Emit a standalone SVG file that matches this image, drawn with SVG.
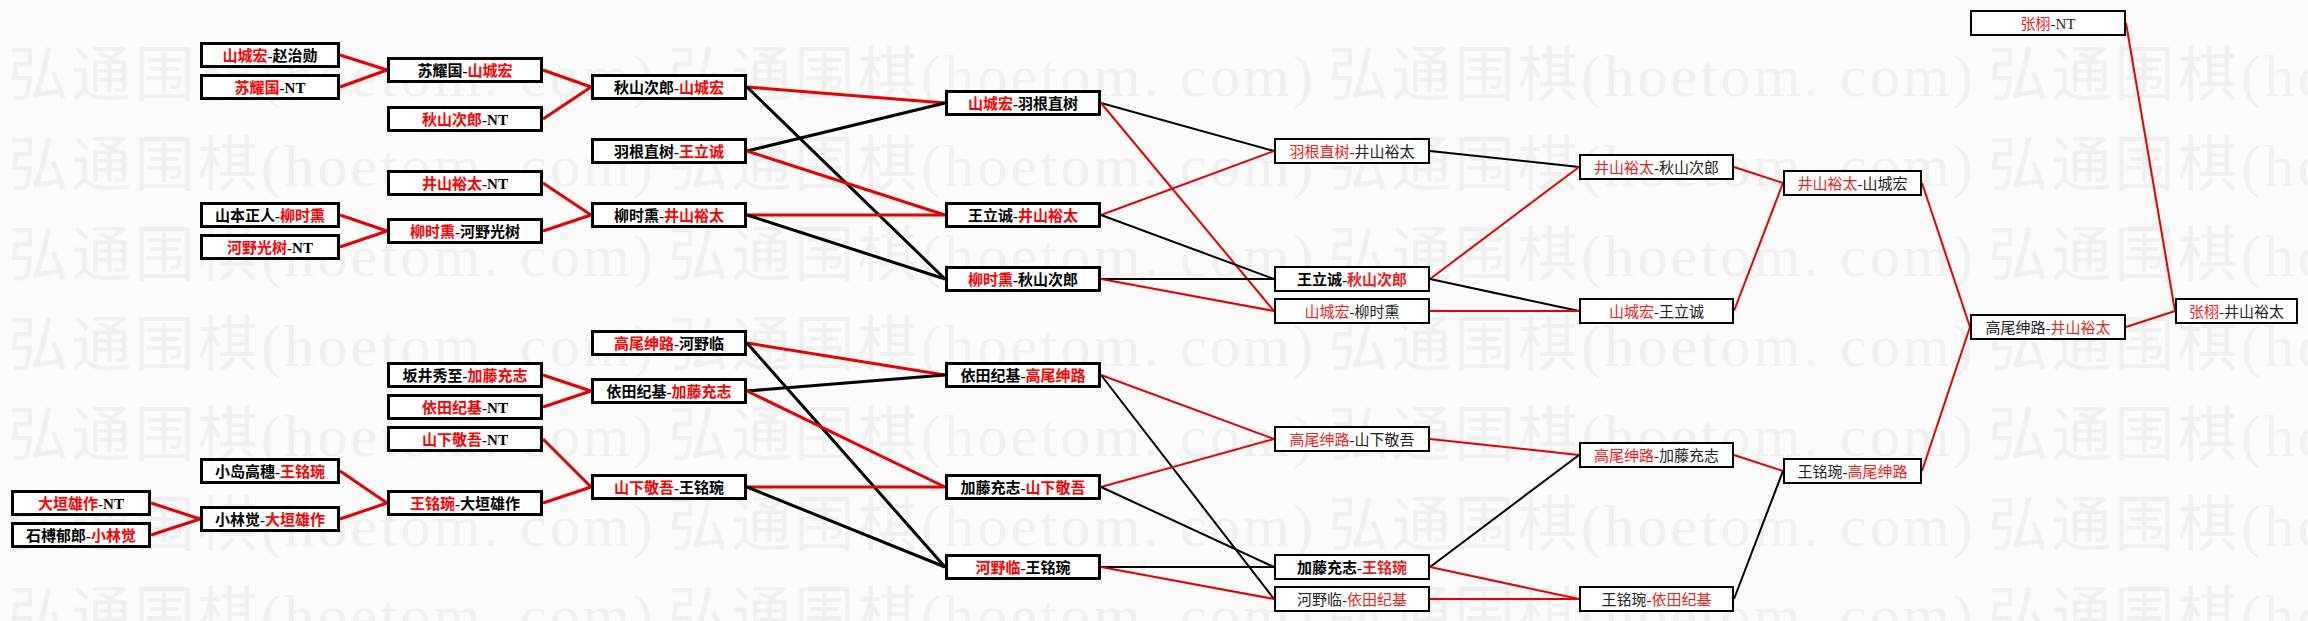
<svg xmlns="http://www.w3.org/2000/svg" width="2308" height="621" viewBox="0 0 2308 621">
<defs>
<style>
.bg{fill:#fbfbfb}
.wm{font-family:"Liberation Serif","Noto Sans CJK SC",serif;font-size:60px;fill:#f0f0f0}
.b3 rect{fill:#fff;stroke:#000;stroke-width:3}
.b2 rect{fill:#fff;stroke:#000;stroke-width:2}
text.t{font-family:"Liberation Serif","Noto Sans CJK SC",serif;font-size:15px;text-anchor:middle;fill:#000}
.b3 text.t{font-weight:bold}
.b2 text.t{fill:#222}
.b2.hv text.t{font-weight:bold;fill:#000}
.rd{fill:#ff0000}
.b2 .rd{fill:#ee1c1c}
#connectors line{fill:none;stroke-linecap:butt}
.r{stroke:#e60000}
.k{stroke:#000}
.s3{stroke-width:3}
.s2{stroke-width:2}
</style>
</defs>
<rect class="bg" x="0" y="0" width="2308" height="621"/>
<g id="watermark" class="wm">
<text x="8" y="96" textLength="645" lengthAdjust="spacing">弘通围棋(hoetom. com)</text><text x="668" y="96" textLength="645" lengthAdjust="spacing">弘通围棋(hoetom. com)</text><text x="1328" y="96" textLength="645" lengthAdjust="spacing">弘通围棋(hoetom. com)</text><text x="1988" y="96" textLength="645" lengthAdjust="spacing">弘通围棋(hoetom. com)</text>
<text x="8" y="186" textLength="645" lengthAdjust="spacing">弘通围棋(hoetom. com)</text><text x="668" y="186" textLength="645" lengthAdjust="spacing">弘通围棋(hoetom. com)</text><text x="1328" y="186" textLength="645" lengthAdjust="spacing">弘通围棋(hoetom. com)</text><text x="1988" y="186" textLength="645" lengthAdjust="spacing">弘通围棋(hoetom. com)</text>
<text x="8" y="276" textLength="645" lengthAdjust="spacing">弘通围棋(hoetom. com)</text><text x="668" y="276" textLength="645" lengthAdjust="spacing">弘通围棋(hoetom. com)</text><text x="1328" y="276" textLength="645" lengthAdjust="spacing">弘通围棋(hoetom. com)</text><text x="1988" y="276" textLength="645" lengthAdjust="spacing">弘通围棋(hoetom. com)</text>
<text x="8" y="366" textLength="645" lengthAdjust="spacing">弘通围棋(hoetom. com)</text><text x="668" y="366" textLength="645" lengthAdjust="spacing">弘通围棋(hoetom. com)</text><text x="1328" y="366" textLength="645" lengthAdjust="spacing">弘通围棋(hoetom. com)</text><text x="1988" y="366" textLength="645" lengthAdjust="spacing">弘通围棋(hoetom. com)</text>
<text x="8" y="456" textLength="645" lengthAdjust="spacing">弘通围棋(hoetom. com)</text><text x="668" y="456" textLength="645" lengthAdjust="spacing">弘通围棋(hoetom. com)</text><text x="1328" y="456" textLength="645" lengthAdjust="spacing">弘通围棋(hoetom. com)</text><text x="1988" y="456" textLength="645" lengthAdjust="spacing">弘通围棋(hoetom. com)</text>
<text x="8" y="546" textLength="645" lengthAdjust="spacing">弘通围棋(hoetom. com)</text><text x="668" y="546" textLength="645" lengthAdjust="spacing">弘通围棋(hoetom. com)</text><text x="1328" y="546" textLength="645" lengthAdjust="spacing">弘通围棋(hoetom. com)</text><text x="1988" y="546" textLength="645" lengthAdjust="spacing">弘通围棋(hoetom. com)</text>
<text x="8" y="636" textLength="645" lengthAdjust="spacing">弘通围棋(hoetom. com)</text><text x="668" y="636" textLength="645" lengthAdjust="spacing">弘通围棋(hoetom. com)</text><text x="1328" y="636" textLength="645" lengthAdjust="spacing">弘通围棋(hoetom. com)</text><text x="1988" y="636" textLength="645" lengthAdjust="spacing">弘通围棋(hoetom. com)</text>
</g>
<g id="connectors">
<line class="r s3" x1="151" y1="503" x2="200" y2="519"/>
<line class="r s3" x1="151" y1="535" x2="200" y2="519"/>
<line class="r s3" x1="340" y1="55" x2="387" y2="70"/>
<line class="r s3" x1="340" y1="87" x2="387" y2="70"/>
<line class="r s3" x1="340" y1="215" x2="387" y2="231"/>
<line class="r s3" x1="340" y1="247" x2="387" y2="231"/>
<line class="r s3" x1="340" y1="471" x2="387" y2="503"/>
<line class="r s3" x1="340" y1="519" x2="387" y2="503"/>
<line class="r s3" x1="543" y1="70" x2="591" y2="87"/>
<line class="r s3" x1="543" y1="119" x2="591" y2="87"/>
<line class="r s3" x1="543" y1="183" x2="591" y2="215"/>
<line class="r s3" x1="543" y1="231" x2="591" y2="215"/>
<line class="r s3" x1="543" y1="375" x2="591" y2="391"/>
<line class="r s3" x1="543" y1="407" x2="591" y2="391"/>
<line class="r s3" x1="543" y1="439" x2="591" y2="487"/>
<line class="r s3" x1="543" y1="503" x2="591" y2="487"/>
<line class="r s3" x1="747" y1="87" x2="945" y2="103"/>
<line class="k s3" x1="747" y1="87" x2="945" y2="279"/>
<line class="k s3" x1="747" y1="151" x2="945" y2="103"/>
<line class="r s3" x1="747" y1="151" x2="945" y2="215"/>
<line class="r s3" x1="747" y1="215" x2="945" y2="215"/>
<line class="k s3" x1="747" y1="215" x2="945" y2="279"/>
<line class="r s3" x1="747" y1="343" x2="945" y2="375"/>
<line class="k s3" x1="747" y1="343" x2="945" y2="567"/>
<line class="k s3" x1="747" y1="391" x2="945" y2="375"/>
<line class="r s3" x1="747" y1="391" x2="945" y2="487"/>
<line class="r s3" x1="747" y1="487" x2="945" y2="487"/>
<line class="k s3" x1="747" y1="487" x2="945" y2="567"/>
<line class="k s2" x1="1101" y1="103" x2="1274" y2="151"/>
<line class="r s2" x1="1101" y1="103" x2="1274" y2="311"/>
<line class="r s2" x1="1101" y1="215" x2="1274" y2="151"/>
<line class="k s2" x1="1101" y1="215" x2="1274" y2="279"/>
<line class="k s2" x1="1101" y1="279" x2="1274" y2="279"/>
<line class="r s2" x1="1101" y1="279" x2="1274" y2="311"/>
<line class="r s2" x1="1101" y1="375" x2="1274" y2="439"/>
<line class="k s2" x1="1101" y1="375" x2="1274" y2="599"/>
<line class="r s2" x1="1101" y1="487" x2="1274" y2="439"/>
<line class="k s2" x1="1101" y1="487" x2="1274" y2="567"/>
<line class="k s2" x1="1101" y1="567" x2="1274" y2="567"/>
<line class="r s2" x1="1101" y1="567" x2="1274" y2="599"/>
<line class="k s2" x1="1430" y1="151" x2="1579" y2="167"/>
<line class="r s2" x1="1430" y1="279" x2="1579" y2="167"/>
<line class="k s2" x1="1430" y1="279" x2="1579" y2="311"/>
<line class="r s2" x1="1430" y1="311" x2="1579" y2="311"/>
<line class="r s2" x1="1430" y1="439" x2="1579" y2="455"/>
<line class="k s2" x1="1430" y1="567" x2="1579" y2="455"/>
<line class="r s2" x1="1430" y1="567" x2="1579" y2="599"/>
<line class="r s2" x1="1430" y1="599" x2="1579" y2="599"/>
<line class="r s2" x1="1734" y1="167" x2="1783" y2="183"/>
<line class="r s2" x1="1734" y1="311" x2="1783" y2="183"/>
<line class="r s2" x1="1734" y1="455" x2="1783" y2="471"/>
<line class="k s2" x1="1734" y1="599" x2="1783" y2="471"/>
<line class="r s2" x1="1922" y1="183" x2="1970" y2="327"/>
<line class="r s2" x1="1922" y1="471" x2="1970" y2="327"/>
<line class="r s2" x1="2126" y1="23" x2="2175" y2="311"/>
<line class="r s2" x1="2126" y1="327" x2="2175" y2="311"/>
</g>
<!-- Column A -->
<g id="a1" class="b3"><rect x="12.5" y="491.5" width="137" height="23"/><text class="t" x="81" y="508.5"><tspan class="rd">大垣雄作</tspan>-NT</text></g>
<g id="a2" class="b3"><rect x="12.5" y="523.5" width="137" height="23"/><text class="t" x="81" y="540.5">石榑郁郎-<tspan class="rd">小林觉</tspan></text></g>
<!-- Column B -->
<g id="b1" class="b3"><rect x="201.5" y="43.5" width="137" height="23"/><text class="t" x="270" y="60.5"><tspan class="rd">山城宏</tspan>-赵治勋</text></g>
<g id="b2" class="b3"><rect x="201.5" y="75.5" width="137" height="23"/><text class="t" x="270" y="92.5"><tspan class="rd">苏耀国</tspan>-NT</text></g>
<g id="b3" class="b3"><rect x="201.5" y="203.5" width="137" height="23"/><text class="t" x="270" y="220.5">山本正人-<tspan class="rd">柳时熏</tspan></text></g>
<g id="b4" class="b3"><rect x="201.5" y="235.5" width="137" height="23"/><text class="t" x="270" y="252.5"><tspan class="rd">河野光树</tspan>-NT</text></g>
<g id="b5" class="b3"><rect x="201.5" y="459.5" width="137" height="23"/><text class="t" x="270" y="476.5">小岛高穗-<tspan class="rd">王铭琬</tspan></text></g>
<g id="b6" class="b3"><rect x="201.5" y="507.5" width="137" height="23"/><text class="t" x="270" y="524.5">小林觉-<tspan class="rd">大垣雄作</tspan></text></g>
<!-- Column C -->
<g id="c1" class="b3"><rect x="388.5" y="58.5" width="153" height="23"/><text class="t" x="465" y="75.5">苏耀国-<tspan class="rd">山城宏</tspan></text></g>
<g id="c2" class="b3"><rect x="388.5" y="107.5" width="153" height="23"/><text class="t" x="465" y="124.5"><tspan class="rd">秋山次郎</tspan>-NT</text></g>
<g id="c3" class="b3"><rect x="388.5" y="171.5" width="153" height="23"/><text class="t" x="465" y="188.5"><tspan class="rd">井山裕太</tspan>-NT</text></g>
<g id="c4" class="b3"><rect x="388.5" y="219.5" width="153" height="23"/><text class="t" x="465" y="236.5"><tspan class="rd">柳时熏</tspan>-河野光树</text></g>
<g id="c5" class="b3"><rect x="388.5" y="363.5" width="153" height="23"/><text class="t" x="465" y="380.5">坂井秀至-<tspan class="rd">加藤充志</tspan></text></g>
<g id="c6" class="b3"><rect x="388.5" y="395.5" width="153" height="23"/><text class="t" x="465" y="412.5"><tspan class="rd">依田纪基</tspan>-NT</text></g>
<g id="c7" class="b3"><rect x="388.5" y="427.5" width="153" height="23"/><text class="t" x="465" y="444.5"><tspan class="rd">山下敬吾</tspan>-NT</text></g>
<g id="c8" class="b3"><rect x="388.5" y="491.5" width="153" height="23"/><text class="t" x="465" y="508.5"><tspan class="rd">王铭琬</tspan>-大垣雄作</text></g>
<!-- Column D -->
<g id="d1" class="b3"><rect x="592.5" y="75.5" width="153" height="23"/><text class="t" x="669" y="92.5">秋山次郎-<tspan class="rd">山城宏</tspan></text></g>
<g id="d2" class="b3"><rect x="592.5" y="139.5" width="153" height="23"/><text class="t" x="669" y="156.5">羽根直树-<tspan class="rd">王立诚</tspan></text></g>
<g id="d3" class="b3"><rect x="592.5" y="203.5" width="153" height="23"/><text class="t" x="669" y="220.5">柳时熏-<tspan class="rd">井山裕太</tspan></text></g>
<g id="d4" class="b3"><rect x="592.5" y="331.5" width="153" height="23"/><text class="t" x="669" y="348.5"><tspan class="rd">高尾绅路</tspan>-河野临</text></g>
<g id="d5" class="b3"><rect x="592.5" y="379.5" width="153" height="23"/><text class="t" x="669" y="396.5">依田纪基-<tspan class="rd">加藤充志</tspan></text></g>
<g id="d6" class="b3"><rect x="592.5" y="475.5" width="153" height="23"/><text class="t" x="669" y="492.5"><tspan class="rd">山下敬吾</tspan>-王铭琬</text></g>
<!-- Column E -->
<g id="e1" class="b3"><rect x="946.5" y="91.5" width="153" height="23"/><text class="t" x="1023" y="108.5"><tspan class="rd">山城宏</tspan>-羽根直树</text></g>
<g id="e2" class="b3"><rect x="946.5" y="203.5" width="153" height="23"/><text class="t" x="1023" y="220.5">王立诚-<tspan class="rd">井山裕太</tspan></text></g>
<g id="e3" class="b3"><rect x="946.5" y="267.5" width="153" height="23"/><text class="t" x="1023" y="284.5"><tspan class="rd">柳时熏</tspan>-秋山次郎</text></g>
<g id="e4" class="b3"><rect x="946.5" y="363.5" width="153" height="23"/><text class="t" x="1023" y="380.5">依田纪基-<tspan class="rd">高尾绅路</tspan></text></g>
<g id="e5" class="b3"><rect x="946.5" y="475.5" width="153" height="23"/><text class="t" x="1023" y="492.5">加藤充志-<tspan class="rd">山下敬吾</tspan></text></g>
<g id="e6" class="b3"><rect x="946.5" y="555.5" width="153" height="23"/><text class="t" x="1023" y="572.5"><tspan class="rd">河野临</tspan>-王铭琬</text></g>
<!-- Column F -->
<g id="f1" class="b2"><rect x="1275" y="139" width="154" height="24"/><text class="t" x="1352" y="156.5"><tspan class="rd">羽根直树</tspan>-井山裕太</text></g>
<g id="f2" class="b2 hv"><rect x="1275" y="267" width="154" height="24"/><text class="t" x="1352" y="284.5">王立诚-<tspan class="rd">秋山次郎</tspan></text></g>
<g id="f3" class="b2"><rect x="1275" y="299" width="154" height="24"/><text class="t" x="1352" y="316.5"><tspan class="rd">山城宏</tspan>-柳时熏</text></g>
<g id="f4" class="b2"><rect x="1275" y="427" width="154" height="24"/><text class="t" x="1352" y="444.5"><tspan class="rd">高尾绅路</tspan>-山下敬吾</text></g>
<g id="f5" class="b2 hv"><rect x="1275" y="555" width="154" height="24"/><text class="t" x="1352" y="572.5">加藤充志-<tspan class="rd">王铭琬</tspan></text></g>
<g id="f6" class="b2"><rect x="1275" y="587" width="154" height="24"/><text class="t" x="1352" y="604.5">河野临-<tspan class="rd">依田纪基</tspan></text></g>
<!-- Column G -->
<g id="g1" class="b2"><rect x="1580" y="155" width="153" height="24"/><text class="t" x="1656.5" y="172.5"><tspan class="rd">井山裕太</tspan>-秋山次郎</text></g>
<g id="g2" class="b2"><rect x="1580" y="299" width="153" height="24"/><text class="t" x="1656.5" y="316.5"><tspan class="rd">山城宏</tspan>-王立诚</text></g>
<g id="g3" class="b2"><rect x="1580" y="443" width="153" height="24"/><text class="t" x="1656.5" y="460.5"><tspan class="rd">高尾绅路</tspan>-加藤充志</text></g>
<g id="g4" class="b2"><rect x="1580" y="587" width="153" height="24"/><text class="t" x="1656.5" y="604.5">王铭琬-<tspan class="rd">依田纪基</tspan></text></g>
<!-- Column H -->
<g id="h1" class="b2"><rect x="1784" y="171" width="137" height="24"/><text class="t" x="1852.5" y="188.5"><tspan class="rd">井山裕太</tspan>-山城宏</text></g>
<g id="h2" class="b2"><rect x="1784" y="459" width="137" height="24"/><text class="t" x="1852.5" y="476.5">王铭琬-<tspan class="rd">高尾绅路</tspan></text></g>
<!-- Column I -->
<g id="i1" class="b2"><rect x="1971" y="11" width="154" height="24"/><text class="t" x="2048" y="28.5"><tspan class="rd">张栩</tspan>-NT</text></g>
<g id="i2" class="b2"><rect x="1971" y="315" width="154" height="24"/><text class="t" x="2048" y="332.5">高尾绅路-<tspan class="rd">井山裕太</tspan></text></g>
<!-- Column J -->
<g id="j1" class="b2"><rect x="2176" y="299" width="121" height="24"/><text class="t" x="2236.5" y="316.5"><tspan class="rd">张栩</tspan>-井山裕太</text></g>
</svg>
